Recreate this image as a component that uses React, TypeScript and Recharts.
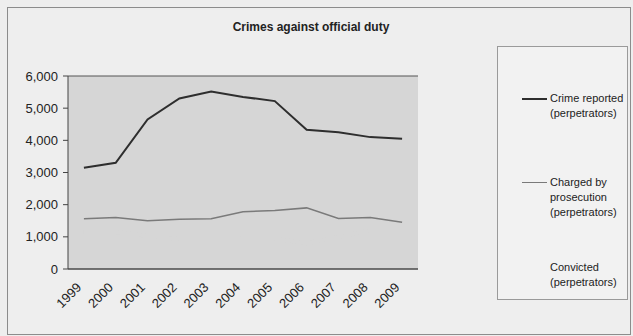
import React from 'react';
import { LineChart, Line, XAxis, YAxis, CartesianGrid, Legend } from 'recharts';

const years = ['1999', '2000', '2001', '2002', '2003', '2004', '2005', '2006', '2007', '2008', '2009'];
const crimeReported = [3150, 3300, 4650, 5300, 5520, 5350, 5220, 4330, 4250, 4100, 4050];
const chargedByProsecution = [1560, 1600, 1500, 1550, 1560, 1780, 1820, 1900, 1570, 1600, 1450];
const convicted = [1150, 1150, 1030, 930, 930, 940, 940, 800, 985, 1200, 1200];
const yTicks = [0, 1000, 2000, 3000, 4000, 5000, 6000];
const seriesLabels = [
  ['Crime reported', '(perpetrators)'],
  ['Charged by', 'prosecution', '(perpetrators)'],
  ['Convicted', '(perpetrators)'],
];

const PLOT_BG = '#d6d6d6';
const FONT = '"Liberation Sans", Arial, sans-serif';

const data = years.map((y, i) => ({
  pos: i + 0.5,
  year: y,
  reported: crimeReported[i],
  charged: chargedByProsecution[i],
  convicted: convicted[i],
}));
const bandTicks = [...years.map((_, i) => i), years.length];
const labelTicks = years.map((_, i) => i + 0.5);

const fmt = (v: number) => v.toLocaleString('en-US');

const XLabel = (props: any) => {
  const { x, y, payload } = props;
  const idx = Math.round(payload.value - 0.5);
  return (
    <g transform={`translate(${x - 5},${y + 10})`}>
      <text
        textAnchor="end"
        transform="rotate(-45)"
        dy="0.35em"
        fontSize={13}
        fontFamily={FONT}
        fill="#222"
      >
        {years[idx]}
      </text>
    </g>
  );
};

const legendColors = ['#2e2e2e', '#7a7a7a', 'transparent'];
const legendTops = [44, 128, 213];

const LegendBox = () => (
  <div
    style={{
      position: 'relative',
      width: 131,
      height: 254,
      boxSizing: 'border-box',
      border: '1px solid #9a9a9a',
      background: '#f2f2f2',
      fontFamily: FONT,
      fontSize: 11,
      color: '#222',
    }}
  >
    {seriesLabels.map((lines, i) => (
      <div key={i} style={{ position: 'absolute', left: 24, top: legendTops[i], display: 'flex' }}>
        <div style={{ width: 25, height: 15, position: 'relative' }}>
          <div
            style={{
              position: 'absolute',
              top: 7,
              left: 0,
              width: 25,
              height: i === 0 ? 2 : 1,
              background: legendColors[i],
            }}
          />
        </div>
        <div style={{ marginLeft: 3, lineHeight: '15px', whiteSpace: 'nowrap' }}>
          {lines.map((l, j) => (
            <div key={j}>{l}</div>
          ))}
        </div>
      </div>
    ))}
  </div>
);

export default function App() {
  return (
    <div
      style={{
        position: 'fixed',
        left: 0,
        top: 0,
        width: 633,
        height: 336,
        background: '#eeeeee',
        overflow: 'hidden',
      }}
    >
      <div
        style={{
          position: 'absolute',
          left: 0,
          width: 622,
          top: 20,
          textAlign: 'center',
          fontFamily: FONT,
          fontWeight: 'bold',
          fontSize: 12,
          lineHeight: '14px',
          color: '#222',
        }}
      >
        Crimes against official duty
      </div>
      <div style={{ position: 'absolute', left: 9, top: 9 }}>
        <LineChart
          width={622}
          height={327}
          data={data}
          margin={{ top: 67, right: 213, left: 0, bottom: 0 }}
        >
          <CartesianGrid
            vertical={false}
            stroke="#555"
            fill={PLOT_BG}
            fillOpacity={1}
            xAxisId="band"
          />
          <XAxis
            xAxisId="band"
            dataKey="pos"
            type="number"
            domain={[0, years.length]}
            ticks={bandTicks}
            tick={false}
            tickSize={5}
            height={6}
            axisLine={{ stroke: '#444' }}
            tickLine={{ stroke: '#444' }}
            interval={0}
          />
          <XAxis
            xAxisId="lbl"
            dataKey="pos"
            type="number"
            domain={[0, years.length]}
            ticks={labelTicks}
            tick={<XLabel />}
            tickSize={0}
            tickMargin={0}
            axisLine={false}
            tickLine={false}
            height={61}
            interval={0}
          />
          <YAxis
            yAxisId="left"
            domain={[0, 6000]}
            ticks={yTicks}
            tickFormatter={fmt}
            width={59}
            tickSize={5}
            tickMargin={5}
            interval={0}
            axisLine={{ stroke: '#444' }}
            tickLine={{ stroke: '#444' }}
            tick={{ fontSize: 13, fontFamily: FONT, fill: '#222' }}
          />
          <YAxis
            yAxisId="right"
            orientation="right"
            domain={[0, 6000]}
            width={0}
            tick={false}
            tickLine={false}
            axisLine={{ stroke: '#444' }}
          />
          <Legend
            layout="horizontal"
            align="center"
            verticalAlign="middle"
            wrapperStyle={{ left: 488, top: 37, width: 131, height: 254 }}
            content={() => <LegendBox />}
          />
          <Line
            xAxisId="band"
            yAxisId="left"
            type="linear"
            dataKey="convicted"
            name="Convicted (perpetrators)"
            stroke={PLOT_BG}
            strokeWidth={4}
            dot={false}
            isAnimationActive={false}
          />
          <Line
            xAxisId="band"
            yAxisId="left"
            type="linear"
            dataKey="charged"
            name="Charged by prosecution (perpetrators)"
            stroke="#7a7a7a"
            strokeWidth={1.5}
            dot={false}
            isAnimationActive={false}
          />
          <Line
            xAxisId="band"
            yAxisId="left"
            type="linear"
            dataKey="reported"
            name="Crime reported (perpetrators)"
            stroke="#2e2e2e"
            strokeWidth={2}
            dot={false}
            isAnimationActive={false}
          />
        </LineChart>
      </div>
      <div
        style={{
          position: 'absolute',
          left: 7,
          top: 7,
          width: 622,
          height: 326,
          border: '1px solid #8c8c8c',
          pointerEvents: 'none',
        }}
      />
    </div>
  );
}
